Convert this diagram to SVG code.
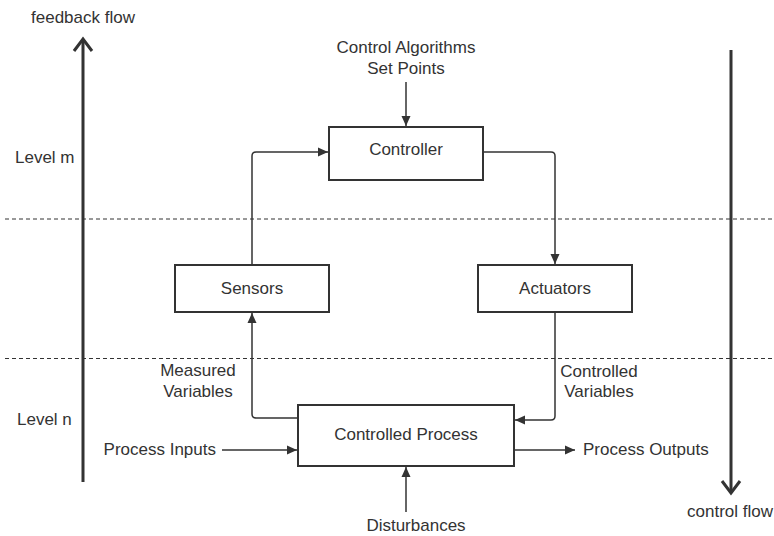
<svg xmlns="http://www.w3.org/2000/svg" width="774" height="536" viewBox="0 0 774 536">
  <defs>
    <marker id="tri" viewBox="0 0 10 10" refX="10" refY="5" markerWidth="10" markerHeight="10" markerUnits="userSpaceOnUse" orient="auto">
      <path d="M0,0.5 L10,5 L0,9.5 Z" fill="#333"/>
    </marker>
  </defs>
  <style>
    text { font-family: "Liberation Sans", Arial, sans-serif; font-size: 17px; fill: #333; }
    .c { text-anchor: middle; }
    .box { fill: #fff; stroke: #333; stroke-width: 2; }
    .link { fill: none; stroke: #333; stroke-width: 1.5; }
    .arr { marker-end: url(#tri); }
    .dash { stroke: #333; stroke-width: 1; stroke-dasharray: 4 3; }
    .flow { fill: none; stroke: #333; stroke-width: 3; }
  </style>
  <rect width="774" height="536" fill="#fff"/>

  <!-- level separators -->
  <g id="levels">
    <line class="dash" x1="5" y1="219" x2="774" y2="219"/>
    <line class="dash" x1="5" y1="358.5" x2="774" y2="358.5"/>
    <text x="15" y="163">Level m</text>
    <text x="17" y="425">Level n</text>
  </g>

  <!-- overall flow arrows -->
  <g id="feedback-flow">
    <line class="flow" x1="83" y1="482" x2="83" y2="39"/>
    <polyline class="flow" points="74,51 83,39 92,51"/>
    <text class="c" x="83" y="23">feedback flow</text>
  </g>
  <g id="control-flow">
    <line class="flow" x1="731" y1="50" x2="731" y2="493"/>
    <polyline class="flow" points="722,481 731,493 740,481"/>
    <text class="c" x="730" y="517">control flow</text>
  </g>

  <!-- connectors -->
  <g id="connectors">
    <line class="link arr" x1="406" y1="82" x2="406" y2="126"/>
    <path class="link arr" d="M483,152 H551 Q555,152 555,156 V264"/>
    <path class="link arr" d="M252,265 V156 Q252,152 256,152 H328"/>
    <path class="link arr" d="M298,418 H256 Q252,418 252,414 V313"/>
    <path class="link arr" d="M555,312 V416 Q555,420 551,420 H515"/>
    <line class="link arr" x1="222" y1="450" x2="297" y2="450"/>
    <line class="link arr" x1="514" y1="450" x2="575" y2="450"/>
    <line class="link arr" x1="406" y1="512" x2="406" y2="467"/>
  </g>

  <!-- labels on connectors -->
  <g id="labels">
    <text class="c" x="406" y="53">Control Algorithms</text>
    <text class="c" x="406" y="74">Set Points</text>
    <text class="c" x="198" y="376">Measured</text>
    <text class="c" x="198" y="397">Variables</text>
    <text class="c" x="599" y="377">Controlled</text>
    <text class="c" x="599" y="397">Variables</text>
    <text x="216" y="455" text-anchor="end">Process Inputs</text>
    <text x="583" y="455">Process Outputs</text>
    <text class="c" x="416" y="531">Disturbances</text>
  </g>

  <!-- nodes -->
  <g id="controller">
    <rect class="box" x="329" y="127" width="154" height="53"/>
    <text class="c" x="406" y="155">Controller</text>
  </g>
  <g id="sensors">
    <rect class="box" x="175" y="265" width="154" height="47"/>
    <text class="c" x="252" y="294">Sensors</text>
  </g>
  <g id="actuators">
    <rect class="box" x="478" y="265" width="154" height="47"/>
    <text class="c" x="555" y="294">Actuators</text>
  </g>
  <g id="controlled-process">
    <rect class="box" x="298" y="405" width="216" height="61"/>
    <text class="c" x="406" y="440">Controlled Process</text>
  </g>
</svg>
